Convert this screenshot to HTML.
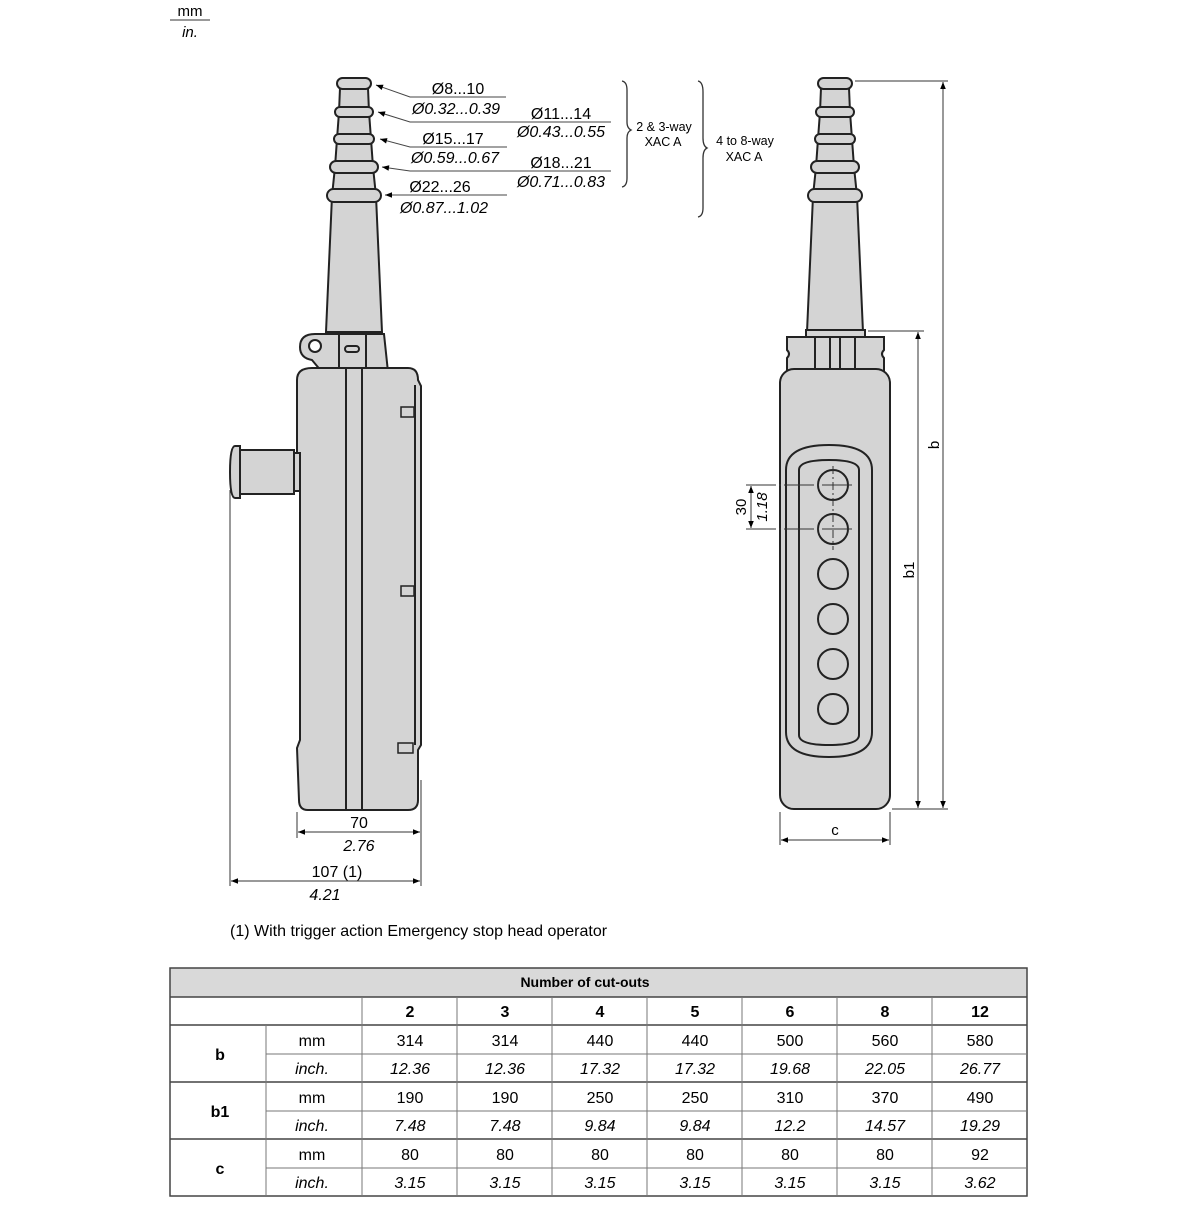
<!DOCTYPE html>
<html><head><meta charset="utf-8"><style>
html,body{margin:0;padding:0;background:#fff;}
svg text{font-family:"Liberation Sans",Arial,sans-serif;}
</style></head><body>
<svg width="1200" height="1200" viewBox="0 0 1200 1200" xmlns="http://www.w3.org/2000/svg">
<defs>
<marker id="ar" viewBox="0 0 10 10" refX="10" refY="5" markerWidth="9" markerHeight="7" orient="auto-start-reverse" markerUnits="userSpaceOnUse"><path d="M0,1 L10,5 L0,9 z" fill="#000"/></marker>
<g id="gland" fill="#d4d4d4" stroke="#222" stroke-width="2">
<path d="M-14,88 L-15,112 L-17,139 L-19,167 L-22,196 L-28,332 L28,332 L22,196 L19,167 L17,139 L15,112 L14,88 z"/>
<rect x="-17" y="78" width="34" height="11" rx="5.5"/>
<rect x="-19" y="107" width="38" height="10" rx="5"/>
<rect x="-20" y="134" width="40" height="10" rx="5"/>
<rect x="-24" y="161" width="48" height="12" rx="6"/>
<rect x="-27" y="189" width="54" height="13" rx="6.5"/>
</g>
</defs>

<text x="190" y="16" font-size="15" text-anchor="middle">mm</text>
<line x1="170" y1="20" x2="210" y2="20" stroke="#333" stroke-width="1"/>
<text x="190" y="37" font-size="15" font-style="italic" text-anchor="middle">in.</text>

<!-- LEFT PENDANT -->
<use href="#gland" transform="translate(354,0)"/>
<g fill="#d4d4d4" stroke="#222" stroke-width="2">
<path d="M315,334 Q300,334 300,347 Q300,358 312,360 L322,372 L388,372 L384,334 z"/>
<circle cx="315" cy="346" r="6" fill="#fff"/>
<rect x="339" y="334" width="27" height="36"/>
<rect x="345" y="346" width="14" height="6" rx="3" fill="#d4d4d4"/>
<path d="M312,368 L408,368 Q418,368 418,380 L421,386 L421,745 L418,750 L418,800 Q418,810 408,810 L308,810 Q299,810 299,800 L297,748 L300,740 L300,470 L297,460 L297,380 Q297,368 312,368 z"/>
<line x1="346" y1="368" x2="346" y2="810"/>
<line x1="362" y1="368" x2="362" y2="810"/>
<line x1="415" y1="385" x2="415" y2="745"/>
<rect x="401" y="407" width="13" height="10" stroke-width="1.5"/>
<rect x="401" y="586" width="13" height="10" stroke-width="1.5"/>
<rect x="398" y="743" width="15" height="10" stroke-width="1.5"/>
<rect x="294" y="453" width="6" height="38"/>
<rect x="240" y="450" width="54" height="44"/>
<path d="M240,446 L240,498 L235,498 Q230,498 230,472 Q230,446 235,446 z"/>
</g>

<g stroke="#333" stroke-width="1" fill="none">
<line x1="230" y1="490" x2="230" y2="886"/>
<line x1="297" y1="812" x2="297" y2="838"/>
<line x1="421" y1="780" x2="421" y2="886"/>
<line x1="298" y1="832" x2="420" y2="832" marker-start="url(#ar)" marker-end="url(#ar)"/>
<line x1="231" y1="881" x2="420" y2="881" marker-start="url(#ar)" marker-end="url(#ar)"/>
</g>
<text x="359" y="828" font-size="16" text-anchor="middle">70</text>
<text x="359" y="851" font-size="16" font-style="italic" text-anchor="middle">2.76</text>
<text x="337" y="877" font-size="16" text-anchor="middle">107 (1)</text>
<text x="325" y="900" font-size="16" font-style="italic" text-anchor="middle">4.21</text>

<g stroke="#444" stroke-width="1" fill="none">
<polyline points="376,85 410,97 506,97" marker-start="url(#ar)"/>
<polyline points="378,112 410,122 611,122" marker-start="url(#ar)"/>
<polyline points="380,139 410,147 507,147" marker-start="url(#ar)"/>
<polyline points="382,167 410,171 611,171" marker-start="url(#ar)"/>
<polyline points="385,195 507,195" marker-start="url(#ar)"/>
</g>
<g font-size="16" text-anchor="middle">
<text x="458" y="94">Ø8...10</text>
<text x="456" y="114" font-style="italic">Ø0.32...0.39</text>
<text x="561" y="119">Ø11...14</text>
<text x="561" y="137" font-style="italic">Ø0.43...0.55</text>
<text x="453" y="144">Ø15...17</text>
<text x="455" y="163" font-style="italic">Ø0.59...0.67</text>
<text x="561" y="168">Ø18...21</text>
<text x="561" y="187" font-style="italic">Ø0.71...0.83</text>
<text x="440" y="192">Ø22...26</text>
<text x="444" y="213" font-style="italic">Ø0.87...1.02</text>
</g>
<g stroke="#333" stroke-width="1.3" fill="none">
<path d="M622,81 Q627,82 627,90 L627,122 Q627,128 631,130 Q627,132 627,138 L627,178 Q627,186 622,187"/>
<path d="M698,81 Q703,82 703,92 L703,138 Q703,146 707,148 Q703,150 703,158 L703,208 Q703,216 698,217"/>
</g>
<g font-size="12.5" text-anchor="middle">
<text x="664" y="131">2 &amp; 3-way</text>
<text x="663" y="146">XAC A</text>
<text x="745" y="145">4 to 8-way</text>
<text x="744" y="161">XAC A</text>
</g>

<!-- RIGHT PENDANT -->
<use href="#gland" transform="translate(835,0)"/>
<g fill="#d4d4d4" stroke="#222" stroke-width="2">
<rect x="806" y="330" width="59" height="7"/>
<path d="M787,337 L884,337 L884,350 Q880,354 884,358 L884,372 L787,372 L787,358 Q791,354 787,350 z"/>
<line x1="815" y1="337" x2="815" y2="370"/>
<line x1="830" y1="337" x2="830" y2="370"/>
<line x1="840" y1="337" x2="840" y2="370"/>
<line x1="855" y1="337" x2="855" y2="370"/>
<rect x="780" y="369" width="110" height="440" rx="14"/>
<path d="M786,470 Q786,445 829,445 Q872,445 872,470 L872,732 Q872,757 829,757 Q786,757 786,732 z"/>
<path d="M799,470 Q799,460 829,460 Q859,460 859,470 L859,735 Q859,745 829,745 Q799,745 799,735 z"/>
<circle cx="833" cy="485" r="15"/>
<circle cx="833" cy="529" r="15"/>
<circle cx="833" cy="574" r="15"/>
<circle cx="833" cy="619" r="15"/>
<circle cx="833" cy="664" r="15"/>
<circle cx="833" cy="709" r="15"/>
</g>
<g stroke="#333" stroke-width="1" fill="none">
<line x1="833" y1="466" x2="833" y2="550" stroke-dasharray="8,3,2,3"/>
<line x1="746" y1="485" x2="852" y2="485" stroke-dasharray="30,3,2,3"/>
<line x1="746" y1="529" x2="852" y2="529" stroke-dasharray="30,3,2,3"/>
<line x1="751" y1="486" x2="751" y2="528" marker-start="url(#ar)" marker-end="url(#ar)"/>
<line x1="855" y1="81" x2="948" y2="81"/>
<line x1="868" y1="331" x2="924" y2="331"/>
<line x1="892" y1="809" x2="948" y2="809"/>
<line x1="943" y1="82" x2="943" y2="808" marker-start="url(#ar)" marker-end="url(#ar)"/>
<line x1="918" y1="332" x2="918" y2="808" marker-start="url(#ar)" marker-end="url(#ar)"/>
<line x1="780" y1="812" x2="780" y2="845"/>
<line x1="890" y1="812" x2="890" y2="845"/>
<line x1="781" y1="840" x2="889" y2="840" marker-start="url(#ar)" marker-end="url(#ar)"/>
</g>
<text transform="translate(746,507) rotate(-90)" font-size="15" text-anchor="middle">30</text>
<text transform="translate(767,507) rotate(-90)" font-size="15" font-style="italic" text-anchor="middle">1.18</text>
<text transform="translate(939,445) rotate(-90)" font-size="15" text-anchor="middle">b</text>
<text transform="translate(914,570) rotate(-90)" font-size="15" text-anchor="middle">b1</text>
<text x="835" y="835" font-size="15" text-anchor="middle">c</text>

<text x="230" y="936" font-size="16">(1) With trigger action Emergency stop head operator</text>

<rect x="170" y="968" width="857" height="29" fill="#d9d9d9"/>
<g stroke="#444" stroke-width="1.5" fill="none">
<rect x="170" y="968" width="857" height="228"/>
<line x1="170" y1="997" x2="1027" y2="997"/>
<line x1="170" y1="1025" x2="1027" y2="1025"/>
<line x1="170" y1="1082" x2="1027" y2="1082"/>
<line x1="170" y1="1139" x2="1027" y2="1139"/>
</g>
<g stroke="#777" stroke-width="1" fill="none">
<line x1="266" y1="1054" x2="1027" y2="1054"/>
<line x1="266" y1="1111" x2="1027" y2="1111"/>
<line x1="266" y1="1168" x2="1027" y2="1168"/>
<line x1="266" y1="1025" x2="266" y2="1196"/>
<line x1="362" y1="997" x2="362" y2="1196"/>
<line x1="457" y1="997" x2="457" y2="1196"/>
<line x1="552" y1="997" x2="552" y2="1196"/>
<line x1="647" y1="997" x2="647" y2="1196"/>
<line x1="742" y1="997" x2="742" y2="1196"/>
<line x1="837" y1="997" x2="837" y2="1196"/>
<line x1="932" y1="997" x2="932" y2="1196"/>
</g>
<text x="585" y="987" font-size="14" font-weight="bold" text-anchor="middle">Number of cut-outs</text>
<g font-size="16" text-anchor="middle">
<g font-weight="bold"><text x="410" y="1017">2</text><text x="505" y="1017">3</text><text x="600" y="1017">4</text><text x="695" y="1017">5</text><text x="790" y="1017">6</text><text x="885" y="1017">8</text><text x="980" y="1017">12</text>
<text x="220" y="1060">b</text><text x="220" y="1117">b1</text><text x="220" y="1174">c</text></g>
<text x="312" y="1046">mm</text><text x="312" y="1103">mm</text><text x="312" y="1160">mm</text>
<g font-style="italic"><text x="312" y="1074">inch.</text><text x="312" y="1131">inch.</text><text x="312" y="1188">inch.</text></g>
<text x="410" y="1046">314</text><text x="505" y="1046">314</text><text x="600" y="1046">440</text><text x="695" y="1046">440</text><text x="790" y="1046">500</text><text x="885" y="1046">560</text><text x="980" y="1046">580</text>
<g font-style="italic"><text x="410" y="1074">12.36</text><text x="505" y="1074">12.36</text><text x="600" y="1074">17.32</text><text x="695" y="1074">17.32</text><text x="790" y="1074">19.68</text><text x="885" y="1074">22.05</text><text x="980" y="1074">26.77</text></g>
<text x="410" y="1103">190</text><text x="505" y="1103">190</text><text x="600" y="1103">250</text><text x="695" y="1103">250</text><text x="790" y="1103">310</text><text x="885" y="1103">370</text><text x="980" y="1103">490</text>
<g font-style="italic"><text x="410" y="1131">7.48</text><text x="505" y="1131">7.48</text><text x="600" y="1131">9.84</text><text x="695" y="1131">9.84</text><text x="790" y="1131">12.2</text><text x="885" y="1131">14.57</text><text x="980" y="1131">19.29</text></g>
<text x="410" y="1160">80</text><text x="505" y="1160">80</text><text x="600" y="1160">80</text><text x="695" y="1160">80</text><text x="790" y="1160">80</text><text x="885" y="1160">80</text><text x="980" y="1160">92</text>
<g font-style="italic"><text x="410" y="1188">3.15</text><text x="505" y="1188">3.15</text><text x="600" y="1188">3.15</text><text x="695" y="1188">3.15</text><text x="790" y="1188">3.15</text><text x="885" y="1188">3.15</text><text x="980" y="1188">3.62</text></g>
</g>
</svg>
</body></html>
